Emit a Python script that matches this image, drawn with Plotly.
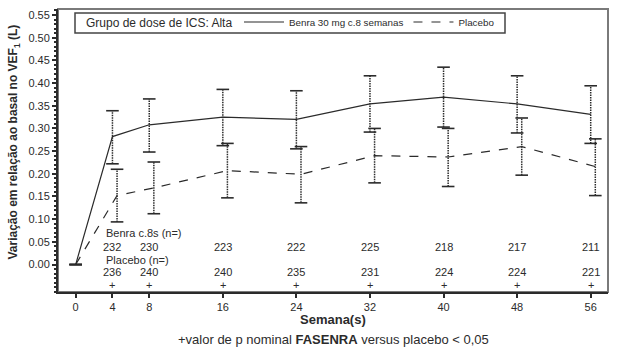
import plotly.graph_objects as go

weeks = [0, 4, 8, 16, 24, 32, 40, 48, 56]
benra = [0.0, 0.282, 0.308, 0.325, 0.320, 0.354, 0.369, 0.354, 0.331]
benra_hi = [0.0, 0.339, 0.365, 0.386, 0.383, 0.416, 0.435, 0.416, 0.394]
benra_lo = [0.0, 0.222, 0.248, 0.262, 0.255, 0.292, 0.303, 0.290, 0.267]
placebo = [0.0, 0.152, 0.169, 0.207, 0.199, 0.240, 0.237, 0.260, 0.216]
placebo_hi = [0.0, 0.210, 0.226, 0.267, 0.260, 0.300, 0.300, 0.323, 0.277]
placebo_lo = [0.0, 0.094, 0.112, 0.147, 0.136, 0.180, 0.172, 0.197, 0.152]
n_weeks = [4, 8, 16, 24, 32, 40, 48, 56]
benra_n = [232, 230, 223, 222, 225, 218, 217, 211]
placebo_n = [236, 240, 240, 235, 231, 224, 224, 221]
sig_weeks = [4, 8, 16, 24, 32, 40, 48, 56]
x_ticks = [0, 4, 8, 16, 24, 32, 40, 48, 56]

PL_OFF = 0.5
placebo_x = [w + (PL_OFF if w > 0 else 0) for w in weeks]

INK = "#2b2b2b"
FRAME = "#7a7a7a"
FONT = "Liberation Sans, Arial, sans-serif"

W, H = 618, 352
ML, MR, MT, MB = 58, 10, 8, 60
PW, PH = W - ML - MR, H - MT - MB


def px(x):
    return (x - ML) / PW


def py(y):
    return 1 - (y - MT) / PH


fig = go.Figure()


def err_traces(xs, hi, lo):
    vx, vy = [], []
    for x, h, l in zip(xs, hi, lo):
        vx += [x, x, None]
        vy += [l, h, None]
    fig.add_trace(go.Scatter(x=vx, y=vy, mode="lines", showlegend=False,
                             line=dict(color=INK, width=1.5, dash="1.5px,1px"),
                             hoverinfo="skip"))
    fig.add_trace(go.Scatter(x=list(xs) + list(xs), y=list(hi) + list(lo),
                             mode="markers", showlegend=False,
                             marker=dict(symbol="line-ew", size=9,
                                         line=dict(color=INK, width=1.6)),
                             hoverinfo="skip"))


err_traces(weeks, benra_hi, benra_lo)
err_traces(placebo_x, placebo_hi, placebo_lo)

fig.add_trace(go.Scatter(x=weeks, y=benra, mode="lines",
                         name="Benra 30 mg c.8 semanas",
                         line=dict(color=INK, width=1.2)))
fig.add_trace(go.Scatter(x=placebo_x, y=placebo, mode="lines",
                         name="Placebo",
                         line=dict(color=INK, width=1.2, dash="dash")))

ann = []
ann.append(dict(x=3.1, y=0.069, xref="x", yref="y", text="Benra c.8s (n=)",
                showarrow=False, xanchor="left", yanchor="middle"))
ann.append(dict(x=3.1, y=0.011, xref="x", yref="y", text="Placebo (n=)",
                showarrow=False, xanchor="left", yanchor="middle"))
for w, n in zip(n_weeks, benra_n):
    ann.append(dict(x=w, y=0.039, xref="x", yref="y", text=str(n),
                    showarrow=False, xanchor="center", yanchor="middle"))
for w, n in zip(n_weeks, placebo_n):
    ann.append(dict(x=w, y=-0.016, xref="x", yref="y", text=str(n),
                    showarrow=False, xanchor="center", yanchor="middle"))
for w in sig_weeks:
    ann.append(dict(x=w, y=-0.044, xref="x", yref="y", text="+",
                    showarrow=False, xanchor="center", yanchor="middle"))
# caption
ann.append(dict(x=0.5, y=py(340), xref="paper", yref="paper",
                text="+valor de p nominal <b>FASENRA</b> versus placebo < 0,05",
                showarrow=False, xanchor="center", yanchor="middle",
                font=dict(size=13, color=INK)))
# x title
ann.append(dict(x=0.5, y=py(320), xref="paper", yref="paper",
                text="<b>Semana(s)</b>",
                showarrow=False, xanchor="center", yanchor="middle",
                font=dict(size=13, color=INK)))
# y title
ann.append(dict(x=px(14), y=py(142), xref="paper", yref="paper",
                text="<b>Variação em relação ao basal no VEF<sub>1</sub> (L)</b>",
                textangle=-90, showarrow=False, xanchor="center",
                yanchor="middle", font=dict(size=12, color=INK)))
# legend title
ann.append(dict(x=px(84), y=py(22), xref="paper", yref="paper",
                text="Grupo de dose de ICS: Alta",
                showarrow=False, xanchor="left", yanchor="middle",
                font=dict(size=12, color=INK)))

shapes = [
    dict(type="rect", xref="paper", yref="paper", x0=0, x1=1, y0=0, y1=1,
         line=dict(color=FRAME, width=2), layer="below"),
    dict(type="rect", xref="paper", yref="paper", x0=px(75), x1=px(505),
         y0=py(32), y1=py(12), line=dict(color="#444", width=1.5),
         fillcolor="rgba(0,0,0,0)", layer="below"),
]

fig.update_layout(
    width=W, height=H,
    margin=dict(l=ML, r=MR, t=MT, b=MB),
    paper_bgcolor="white", plot_bgcolor="white",
    font=dict(family=FONT, size=11, color=INK),
    annotations=ann,
    shapes=shapes,
    showlegend=True,
    legend=dict(
        orientation="h", x=px(239), y=py(22), xanchor="left",
        yanchor="middle", borderwidth=0, bgcolor="rgba(0,0,0,0)",
        font=dict(size=9.8, color=INK),
        itemwidth=40, tracegroupgap=0,
    ),
    xaxis=dict(
        range=[-1.92, 57.88], tickvals=x_ticks, ticks="outside", ticklen=4,
        tickwidth=1.5, tickcolor=INK, showgrid=False, zeroline=False,
        showline=True, linecolor=INK, linewidth=2,
        tickfont=dict(size=11, color=INK),
    ),
    yaxis=dict(
        range=[-0.0605, 0.5632], tickvals=[i * 0.05 for i in range(12)],
        tickformat=".2f", ticks="outside", ticklen=4, tickwidth=1.5,
        tickcolor=INK, showgrid=False, zeroline=False,
        showline=True, linecolor=INK, linewidth=2,
        minor=dict(dtick=0.01, tick0=0, ticks="outside", ticklen=2,
                   tickcolor=INK, showgrid=False),
        tickfont=dict(size=11, color=INK),
    ),
)

fig.write_html("out.html")
